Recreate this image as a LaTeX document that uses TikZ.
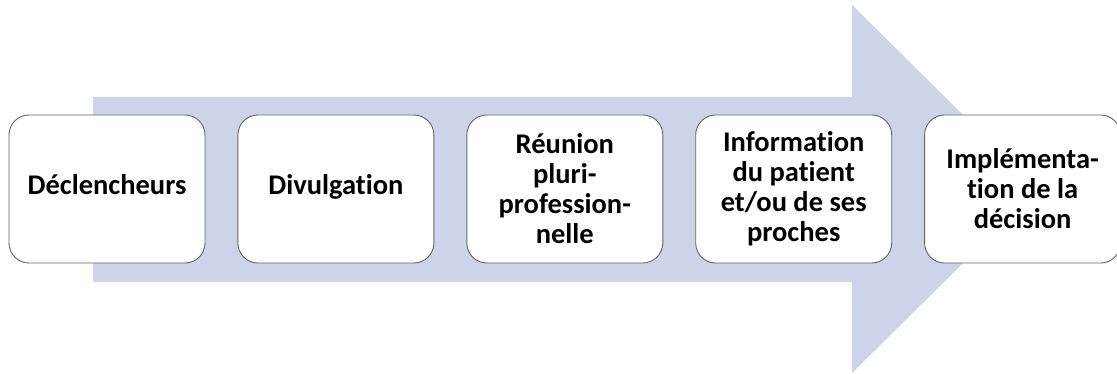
\documentclass[tikz,border=0pt]{standalone}
\usepackage{fontspec}
\setmainfont[Ligatures=NoCommon]{Carlito}
\usepackage{tikz}
\usetikzlibrary{positioning}
\definecolor{arrowblue}{RGB}{205,212,234}
\definecolor{boxline}{RGB}{100,100,100}

\begin{document}
\begin{tikzpicture}[x = 1pt, y = -1pt,
  stepbox/.style = {draw = boxline, line width = .9pt, fill = white, rounded corners = 20pt,
    minimum width = 196pt, minimum height = 148pt, align = center, inner sep = 2pt,
    font = \fontsize{28.5}{30}\selectfont\bfseries},
  node distance = 32pt]
\useasboundingbox (0,0) rectangle (1117,374);
\fill[arrowblue] (93,97) -- (852,97) -- (852,5) -- (1038,189) -- (852,373) -- (852,282) -- (93,282) -- cycle;
\node[stepbox] (decl) at (107,189) {\strut D\'eclencheurs};
\node[stepbox, right = of decl] (divu) {\strut Divulgation};
\node[stepbox, right = of divu] (reun) {R\'eunion\\pluri-\\profession-\\nelle};
\node[stepbox, right = of reun] (info) {Information\\du patient\\et/ou de ses\\proches};
\node[stepbox, right = of info] (impl) {Impl\'ementa-\\tion de la\\d\'ecision};
\end{tikzpicture}
\end{document}
